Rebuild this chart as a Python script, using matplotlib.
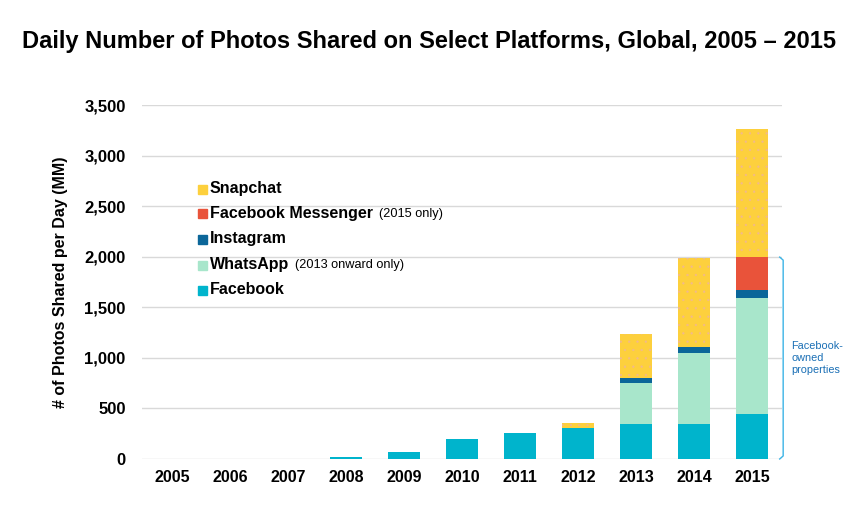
import numpy as np
import matplotlib.pyplot as plt
from matplotlib.patches import Rectangle

plt.rcParams['font.family'] = ['Liberation Sans', 'DejaVu Sans']
plt.rcParams['hatch.color'] = '#f2b98c'
plt.rcParams['hatch.linewidth'] = 0.4

years = ['2005', '2006', '2007', '2008', '2009', '2010', '2011', '2012', '2013', '2014', '2015']
facebook = [0, 1, 3, 15, 67, 200, 253, 307, 342, 342, 441]
whatsapp = [0, 0, 0, 0, 0, 0, 0, 0, 405, 704, 1154]
instagram = [0, 0, 0, 0, 0, 0, 0, 0, 52, 59, 76]
messenger = [0, 0, 0, 0, 0, 0, 0, 0, 0, 0, 326]
snapchat = [0, 0, 0, 0, 0, 0, 0, 53, 441, 882, 1263]

series = [
    ('Facebook', facebook, '#00b4cc', ''),
    ('WhatsApp', whatsapp, '#a8e6cb', '(2013 onward only)'),
    ('Instagram', instagram, '#0b6699', ''),
    ('Facebook Messenger', messenger, '#e9533a', '(2015 only)'),
    ('Snapchat', snapchat, '#fdd03d', ''),
]

fig = plt.figure(figsize=(8.57, 5.08), dpi=100)
ax = fig.add_axes([0.166, 0.0965, 0.7465, 0.6965])

x = np.arange(len(years))
bottom = np.zeros(len(years))
for name, vals, col, note in series:
    vals = np.array(vals, dtype=float)
    ax.bar(x, vals, width=0.56, bottom=bottom, color=col, linewidth=0,
           hatch='..' if name == 'Snapchat' else None, zorder=3)
    bottom += vals

ax.set_xlim(-0.52, len(years) - 0.48)
ax.set_ylim(0, 3500)
ax.set_yticks(np.arange(0, 3501, 500))
ax.set_yticklabels([f'{v:,}' for v in range(0, 3501, 500)], fontsize=12, fontweight='bold')
ax.set_xticks(x)
ax.set_xticklabels(years, fontsize=11.5, fontweight='bold')
ax.tick_params(axis='y', length=0, pad=12)
ax.tick_params(axis='x', length=0, pad=8)
ax.grid(axis='y', color='#d9d9d9', linewidth=1, zorder=0)
for s in ax.spines.values():
    s.set_visible(False)

ax.set_ylabel('# of Photos Shared per Day (MM)', fontsize=11.5, fontweight='bold', labelpad=12)

fig.text(0.5, 0.918, 'Daily Number of Photos Shared on Select Platforms, Global, 2005 \u2013 2015',
         ha='center', va='center', fontsize=17, fontweight='bold')

# legend drawn by hand (bold name + small note)
leg_y = [189, 214, 239, 265, 290]
for (name, vals, col, note), yy in zip(series[::-1], leg_y):
    fy = 1 - yy / 508
    fig.patches.append(Rectangle((198 / 857, fy - 4.5 / 508), 9 / 857, 9 / 508,
                                 transform=fig.transFigure, color=col, zorder=5))
    t = fig.text(210 / 857, fy, name, fontsize=11.5, fontweight='bold', va='center')
    if note:
        fig.canvas.draw()
        bb = t.get_window_extent()
        fig.text((bb.x1 + 6) / 857, fy, note, fontsize=9.2, va='center')

# bracket for Facebook-owned properties
top = sum(v[-1] for v in (facebook, whatsapp, instagram, messenger))
bx = len(years) - 0.48 + 0.02
ax.plot([bx - 0.06, bx, bx, bx - 0.06], [top, top - 30, 30, 0], color='#3cb4e6',
        linewidth=1, clip_on=False)
ax.text(bx + 0.14, top / 2, 'Facebook-\nowned\nproperties', color='#1a6fb5',
        fontsize=7.8, va='center', ha='left', linespacing=1.2)

fig.savefig('out.png', dpi=100)
